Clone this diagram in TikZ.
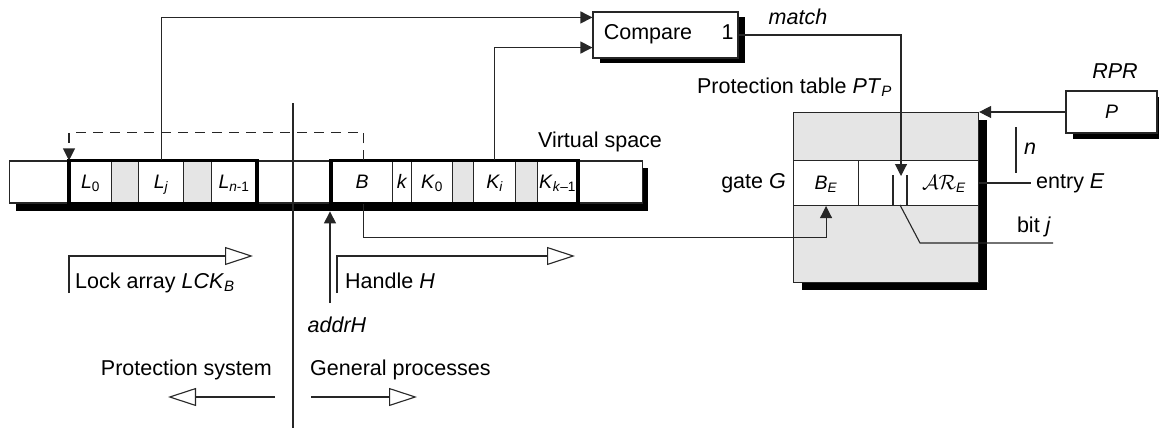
\documentclass[tikz,border=0pt]{standalone}
\usepackage{fontspec}
\setmainfont{Liberation Sans}
\usetikzlibrary{arrows.meta,calc,shadows}
\begin{document}
\begin{tikzpicture}[x=1pt,y=-1pt,
  ln/.style={draw=black!85, line width=1.1pt},
  cell/.style={draw=black!85, line width=1.1pt, fill=white, minimum height=42pt, inner sep=0pt,
    text height=17pt, text depth=5pt, font=\fontsize{19.5}{22}\selectfont, anchor=west},
  graycell/.style={cell, fill=black!10},
  thickbox/.style={draw=black, line width=3.6pt},
  box/.style={draw=black!85, line width=1.1pt, fill=white, inner sep=0pt},
  arr/.style={-{Triangle[length=12pt,width=12pt]}},
  oarr/.style={-{Triangle[open,length=28pt,width=18pt,fill=white]}},
  lbl/.style={font=\fontsize{21.5}{24}\selectfont, inner sep=0pt},
  shd/.style={fill=black, draw=none, inner sep=0pt},
]
\useasboundingbox (0,0) rectangle (1159,428);

% ---- virtual space strip ----
\node[shd, minimum width=632pt, minimum height=43pt, anchor=north west] (strshadow) at (16,168) {};
\node[cell, minimum width=60pt] (c0) at (9,182) {};
\node[cell, minimum width=42pt] (L0) at (69,182) {\textit{L}\textsubscript{0}};
\node[graycell, minimum width=27pt] (g1) at (111,182) {};
\node[cell, minimum width=45pt] (Lj) at (138,182) {\textit{L\textsubscript{j}}};
\node[graycell, minimum width=28pt] (g2) at (183,182) {};
\node[cell, minimum width=45pt] (Ln) at (211,182) {\textit{L}\textsubscript{\textit{n}-1}};
\node[cell, minimum width=75pt] (c1) at (256,182) {};
\node[cell, minimum width=61pt] (B) at (331,182) {\textit{B}};
\node[cell, minimum width=19pt] (k) at (392,182) {\textit{k}};
\node[cell, minimum width=41pt] (K0) at (411,182) {\textit{K}\textsubscript{0}};
\node[graycell, minimum width=21pt] (g3) at (452,182) {};
\node[cell, minimum width=42pt] (Ki) at (473,182) {\textit{K\textsubscript{i}}};
\node[graycell, minimum width=22pt] (g4) at (515,182) {};
\node[cell, minimum width=40pt] (Kk) at (537,182) {\textit{K}\textsubscript{\textit{k}–1}};
\node[cell, minimum width=65pt] (c2) at (577,182) {};
\draw[thickbox] (L0.north west) rectangle (Ln.south east);
\draw[thickbox] (B.north west) rectangle (Kk.south east);
\node[lbl, anchor=base] (vs) at (600,147) {Virtual space};

% divider
\coordinate (divtop) at (293,103);
\coordinate (divbot) at (293,428);
\draw[ln] (divtop) -- (divbot);

% ---- compare ----
\node[box, minimum width=145pt, minimum height=46pt,
  drop shadow={shadow xshift=7pt,shadow yshift=-5pt,fill=black,opacity=1}] (compare) at (665.5,35) {};
\node[lbl, anchor=base] (cmptxt) at (648,40) {Compare};
\node[lbl, anchor=base] (one) at (727.5,40) {1};
\draw[ln, arr] (Lj.north) |- ([yshift=-6pt]compare.north west);
\draw[ln, arr] (Ki.north) |- ([yshift=11pt]compare.south west);
\node[lbl, anchor=base] (match) at (798,25) {\textit{match}};

% dashed link
\draw[ln, dashed, dash pattern=on 10pt off 7pt, arr] ([xshift=1.5pt]B.north) -- ++(0,-28) -| (L0.north west);

% ---- protection table ----
\node[lbl, anchor=base east] (pttxt) at (892,93) {Protection table \textit{PT}\textsubscript{\textit{P}}};
\node[box, fill=black!10, minimum width=185pt, minimum height=170pt, anchor=north west,
  drop shadow={shadow xshift=8pt,shadow yshift=-7pt,fill=black,opacity=1}] (table) at (793,112) {};
\node[cell, minimum width=65pt, minimum height=45pt, anchor=north west] (BE) at (793,160) {\textit{B}\textsubscript{\textit{E}}};
\node[cell, minimum width=120pt, minimum height=45pt, anchor=north west] (ARcell) at (858,160) {};
\node[inner sep=0pt, font=\fontsize{19.5}{22}\selectfont, anchor=base] (ARE) at (944,189) {$\mathcal{AR}$\textsubscript{\textit{E}}};
\coordinate (slotL) at (893,175);
\coordinate (slotR) at (907,175);
\coordinate (slottop) at (901,176);
\coordinate (slotbot) at (900,205);
\draw[ln] (slotL) -- (slotL |- ARcell.south);
\draw[ln] (slotR) -- (slotR |- ARcell.south);
\draw[ln, arr] (compare.east) -| (slottop);

\node[lbl, anchor=base east] (gate) at (786,188) {gate \textit{G}};
\node[lbl, anchor=base west] (entry) at (1036,188) {entry \textit{E}};
\draw[ln] (table.east |- 0,183) -- (1031,183);
\coordinate (ntop) at (1016,127);
\coordinate (nbot) at (1016,173);
\draw[ln] (ntop) -- (nbot);
\node[lbl, anchor=base west] (n) at (1024,154) {\textit{n}};

% RPR
\node[box, minimum width=91pt, minimum height=42pt, font=\fontsize{19.5}{22}\selectfont,
  text height=17pt, text depth=5pt,
  drop shadow={shadow xshift=7pt,shadow yshift=-6pt,fill=black,opacity=1}] (rpr) at (1111.5,112) {\textit{P}};
\node[lbl, anchor=base] (rprtxt) at (1115,78) {\textit{RPR}};
\draw[ln, arr] (rpr.west) -- (rpr.west -| table.east);

% B -> B_E
\draw[ln, arr] ([xshift=1.5pt]B.south) -- ++(0,34) -| (BE.south);

% bit j
\coordinate (bitbend) at (920,243);
\coordinate (bitend) at (1053,243);
\draw[ln] (slotbot) -- (bitbend) -- (bitend);
\node[lbl, anchor=base] (bitj) at (1034,232) {bit \textit{j}};

% ---- lower labels ----
\coordinate (lockstart) at (69,293);
\coordinate (lockend) at (253,256);
\draw[ln, oarr] (lockstart) |- (lockend);
\node[lbl, anchor=base west] (locktxt) at (75,288) {Lock array \textit{LCK}\textsubscript{\textit{B}}};

\coordinate (hstart) at (337,293);
\coordinate (hend) at (575,256);
\draw[ln, oarr] (hstart) |- (hend);
\node[lbl, anchor=base west] (htxt) at (345,288) {Handle \textit{H}};

\node[lbl, anchor=base] (addrH) at (337,332) {\textit{addrH}};
\coordinate (astart) at (330,303);
\draw[ln, arr] (astart) -- (astart |- strshadow.south);

\node[lbl, anchor=base east] (ps) at (272,375) {Protection system};
\node[lbl, anchor=base west] (gp) at (310,375) {General processes};
\coordinate (psa) at (275,397);
\coordinate (psb) at (168,397);
\coordinate (gpa) at (311,397);
\coordinate (gpb) at (417,397);
\draw[ln, oarr] (psa) -- (psb);
\draw[ln, oarr] (gpa) -- (gpb);
\end{tikzpicture}
\end{document}
